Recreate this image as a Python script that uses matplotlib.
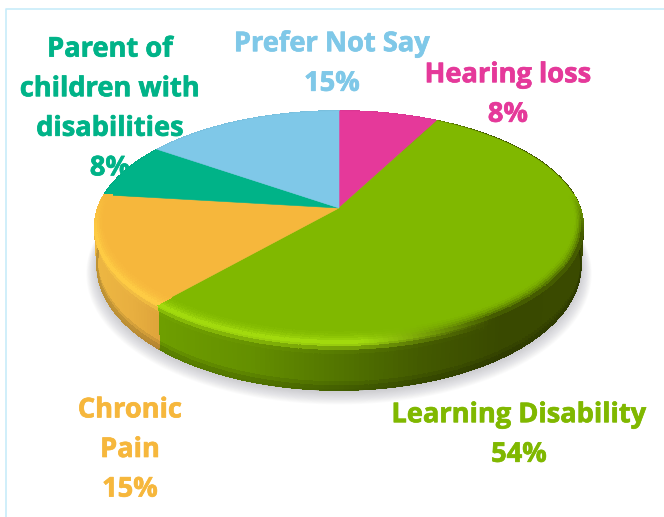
import numpy as np
import matplotlib
matplotlib.use("Agg")
import matplotlib.pyplot as plt
import matplotlib.patheffects as pe
from matplotlib.collections import PolyCollection
from matplotlib.colors import to_rgb

# ---- data ----
categories = ["Hearing loss", "Learning Disability", "Chronic Pain",
              "Parent of children with disabilities", "Prefer Not Say"]
values = [7.7, 53.8, 15.4, 7.7, 15.4]
colors = ["#E5399A", "#80B800", "#F6B73C", "#00B388", "#7FC8E8"]
highlight = ["#E5399A", "#A8E010", "#FFCF45", "#00B388", "#7FC8E8"]
label_text = ["Hearing loss\n8%", "Learning Disability\n54%", "Chronic\nPain\n15%",
              "Parent of\nchildren with\ndisabilities\n8%", "Prefer Not Say\n15%"]
label_pos = [(508, 95), (519, 435), (130, 450), (110, 109), (332, 64)]
label_colors = ["#E5399A", "#80B800", "#F6B73C", "#00B388", "#7FC8E8"]

# ---- projection of the tilted disc into pixels ----
CX, CY = 339.0, 208.0
A = 241.0
TOP, BOT = 97.0, 135.0
E = (BOT - TOP) / (BOT + TOP)
B = TOP * (1 + E)


def rim(t, r=1.0):
    u, v = r * np.sin(t), r * np.cos(t)
    d = 1 + E * v
    return CX + A * u / d, CY - B * v / d


def lower(t):
    x, y = rim(t)
    v = np.cos(t)
    return CX + (x - CX) * 0.99, y + 36 + 11 * np.maximum(-v, 0)


def lerp(a, b, f):
    a, b = np.array(a), np.array(b)
    return a + (b - a) * np.clip(f, 0, 1)


def piecewise(x, xs, cols):
    cols = np.array([to_rgb(c) for c in cols])
    return np.array([np.interp(x, xs, cols[:, i]) for i in range(3)])


def side_base(i, x):
    if i == 1:
        return piecewise(x, [160, 250, 340, 420, 500, 585],
                         ["#6E9E00", "#648F00", "#527400", "#435A00", "#394900", "#3A4A00"])
    if i == 2:
        return piecewise(x, [94, 130, 160], ["#EDB742", "#E8AF40", "#DDA33A"])
    return lerp(to_rgb(colors[i]), (0, 0, 0), 0.25)


def hl_color(i, x):
    if i == 1:
        mix = np.clip((x - 360) / 130, 0, 1)
        return lerp(to_rgb(highlight[1]), side_base(1, x), mix)
    return np.array(to_rgb(highlight[i]))


fig = plt.figure(figsize=(6.64, 5.17), dpi=100)
ax = fig.add_axes([0, 0, 1, 1])
ax.set_xlim(0, 664)
ax.set_ylim(517, 0)
ax.axis("off")

# frame
ax.plot([5.5, 5.5, 664], [517, 8.5, 8.5], color="#C8ECFA", lw=1.2, zorder=0)

# soft shadow
tt = np.linspace(0, 2 * np.pi, 361)
lx, ly = lower(tt)
for k in range(14):
    g = 1 + 0.0032 * (14 - k)
    ax.fill(CX + (lx - CX) * g, 236 + (ly - 236) * g + 2 + 0.4 * (14 - k),
            color="#8A8A96", alpha=0.03, lw=0, zorder=1)

# slices
edges = np.radians(np.concatenate([[0], np.cumsum(values)]) / sum(values) * 360)
polys, cols = [], []
for i in range(len(values)):
    n = max(int(np.degrees(edges[i + 1] - edges[i])), 2)
    ts = np.linspace(edges[i], edges[i + 1], n + 1)
    levels = np.linspace(0, 1, 13)
    for a, b in zip(ts[:-1], ts[1:]):
        xa, ya = rim(a); xb, yb = rim(b)
        xa2, ya2 = lower(a); xb2, yb2 = lower(b)
        xm = (xa + xb) / 2
        base = side_base(i, xm)
        hl = hl_color(i, xm)
        for s0, s1 in zip(levels[:-1], levels[1:]):
            polys.append([(xa + (xa2 - xa) * s0, ya + (ya2 - ya) * s0),
                          (xb + (xb2 - xb) * s0, yb + (yb2 - yb) * s0),
                          (xb + (xb2 - xb) * s1, yb + (yb2 - yb) * s1),
                          (xa + (xa2 - xa) * s1, ya + (ya2 - ya) * s1)])
            s = (s0 + s1) / 2
            c = lerp(hl, base, s / 0.22)
            c = c * (1 - 0.22 * np.clip((s - 0.8) / 0.2, 0, 1))
            cols.append(c)
        ax.plot([xa2, xb2], [ya2, yb2], color=base * 0.8, lw=1.0,
                solid_capstyle="round", zorder=2.5)
side = PolyCollection(polys, facecolors=cols, edgecolors=cols, linewidths=0.6,
                      antialiaseds=False, zorder=2)
ax.add_collection(side)

polys, cols = [], []
for i in range(len(values)):
    n = max(int(np.degrees(edges[i + 1] - edges[i])), 2)
    ts = np.linspace(edges[i], edges[i + 1], n + 1)
    x, y = rim(ts)
    ax.fill(np.r_[CX, x], np.r_[CY, y], color=colors[i], lw=0.4, zorder=3)
    face = np.array(to_rgb(colors[i]))
    # bevel on the front of the top face
    for a, b in zip(ts[:-1], ts[1:]):
        m = (a + b) / 2
        v = np.cos(m)
        strength = np.clip((0.12 - v) / 0.35, 0, 1)
        if strength <= 0 or i in (3, 4, 0):
            continue
        dr = 0.03 + 0.05 * abs(v)
        rs = np.linspace(1 - dr, 1, 7)
        xm = rim(m)[0]
        hl = hl_color(i, xm)
        for r0, r1 in zip(rs[:-1], rs[1:]):
            xa0, ya0 = rim(a, r0); xb0, yb0 = rim(b, r0)
            xa1, ya1 = rim(a, r1); xb1, yb1 = rim(b, r1)
            polys.append([(xa0, ya0), (xb0, yb0), (xb1, yb1), (xa1, ya1)])
            f = ((r0 + r1) / 2 - rs[0]) / dr
            cols.append(lerp(face, hl, f * f * strength))
ax.add_collection(PolyCollection(polys, facecolors=cols, edgecolors=cols, linewidths=0.5,
                                 antialiaseds=False, zorder=4))

# labels
for txt, (x, y), c in zip(label_text, label_pos, label_colors):
    ax.text(x, y, txt, color=c, ha="center", va="center", fontsize=19.6,
            family="Open Sans", fontweight="bold", linespacing=1.68, zorder=6,
            path_effects=[pe.withStroke(linewidth=0.5, foreground=c)])

fig.savefig("out.png", dpi=100)
